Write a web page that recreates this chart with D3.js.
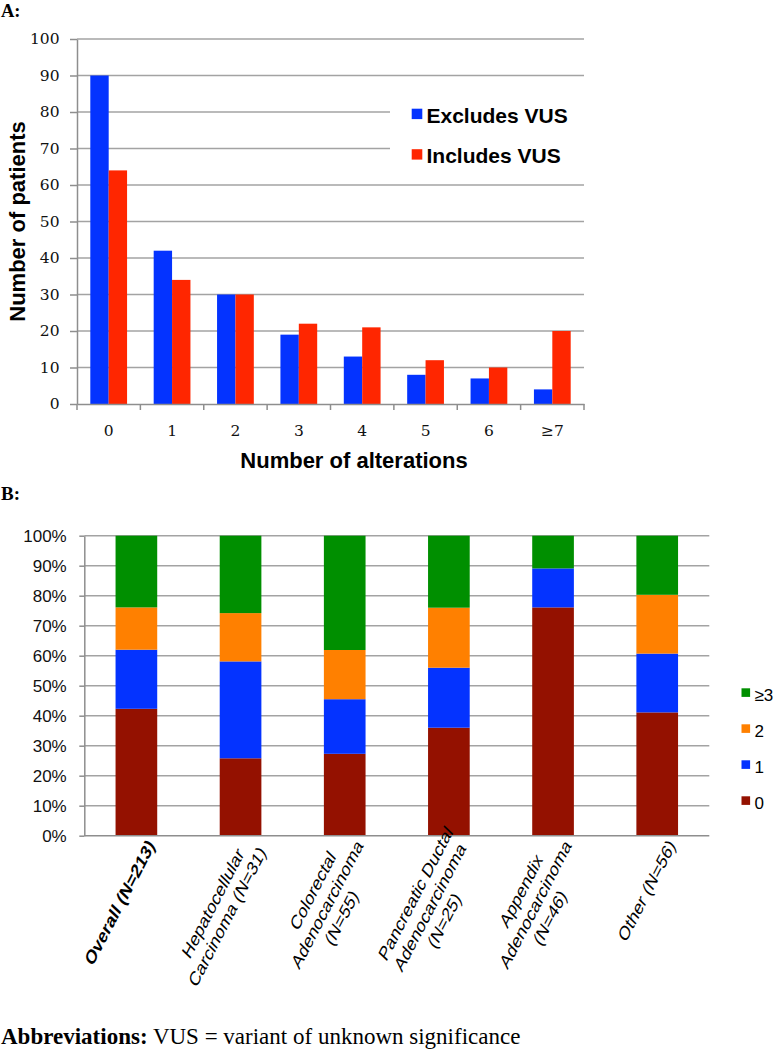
<!DOCTYPE html>
<html>
<head>
<meta charset="utf-8">
<script src="https://cdn.jsdelivr.net/npm/d3@7"></script>
<style>
  html, body { margin: 0; padding: 0; background: #fff; }
  svg { display: block; }
</style>
</head>
<body>
<svg id="chart" width="775" height="1050"></svg>
<script>
// ---------- Data: panel A ----------
const alterations = ['0', '1', '2', '3', '4', '5', '6', '≥7'];
const excludesVUS = [90, 42, 30, 19, 13, 8, 7, 4];
const includesVUS = [64, 34, 30, 22, 21, 12, 10, 20];
const seriesA = ['Excludes VUS', 'Includes VUS'];
const yTicksA = [0, 10, 20, 30, 40, 50, 60, 70, 80, 90, 100];

// ---------- Data: panel B ----------
const tumorLabels = [
  ['Overall (N=213)'],
  ['Hepatocellular', 'Carcinoma (N=31)'],
  ['Colorectal', 'Adenocarcinoma', '(N=55)'],
  ['Pancreatic Ductal', 'Adenocarcinoma', '(N=25)'],
  ['Appendix', 'Adenocarcinoma', '(N=46)'],
  ['Other (N=56)']
];
const pctZero  = [42.3, 25.8, 27.3, 36.0, 76.1, 41.1];
const pctOne   = [19.7, 32.3, 18.2, 20.0, 13.0, 19.6];
const pctTwo   = [14.1, 16.1, 16.4, 20.0, 0.0, 19.6];
const pctThree = [23.9, 25.8, 38.1, 24.0, 10.9, 19.7];
const keysB = ['0', '1', '2', '≥3'];
const yTicksB = [0, 10, 20, 30, 40, 50, 60, 70, 80, 90, 100];

// ---------- Styles ----------
const colA = { 'Excludes VUS': '#0433FF', 'Includes VUS': '#FF2600' };
const colB = { '0': '#941100', '1': '#0433FF', '2': '#FF8000', '≥3': '#008F00' };
const gridCol = '#a3a3a3';
const axisCol = '#8e8e8e';
const sans = '"Liberation Sans", Arial, sans-serif';
const serifNum = '"DejaVu Serif", serif';
const times = '"Liberation Serif", "Times New Roman", serif';

const svg = d3.select('#chart');
svg.append('rect').attr('width', 775).attr('height', 1050).attr('fill', '#fff');

// ================= PANEL A =================
svg.append('text').attr('x', 1).attr('y', 17)
  .attr('font-family', times).attr('font-weight', 'bold').attr('font-size', 18.5)
  .text('A:');

const xA = d3.scaleBand().domain(alterations).range([77, 584])
  .paddingInner(0.42).paddingOuter(0.21);
const xSubA = d3.scaleBand().domain(seriesA).range([0, xA.bandwidth()]);
const yA = d3.scaleLinear().domain([0, 100]).range([404, 39]);

const gA = svg.append('g');
gA.selectAll('line.grid').data(yTicksA.filter(d => d > 0)).join('line')
  .attr('x1', 77).attr('x2', 584)
  .attr('y1', d => yA(d)).attr('y2', d => yA(d))
  .attr('stroke', gridCol).attr('stroke-width', 1.5);

const yAxisA = gA.append('g').attr('transform', 'translate(77,0)')
  .call(d3.axisLeft(yA).tickValues(yTicksA).tickSize(7).tickSizeOuter(0).tickPadding(10.5));
yAxisA.select('.domain').attr('stroke', axisCol).attr('stroke-width', 1.5);
yAxisA.selectAll('.tick line').attr('stroke', axisCol).attr('stroke-width', 1.5);
yAxisA.selectAll('.tick text').attr('font-family', serifNum).attr('font-size', 15.5).attr('fill', '#111');

const rowsA = alterations.map((c, i) => ({ c, vals: [excludesVUS[i], includesVUS[i]] }));
gA.selectAll('g.grp').data(rowsA).join('g')
  .attr('transform', d => `translate(${xA(d.c)},0)`)
  .selectAll('rect').data(d => d.vals.map((v, j) => ({ s: seriesA[j], v })))
  .join('rect')
  .attr('x', d => xSubA(d.s)).attr('width', xSubA.bandwidth())
  .attr('y', d => yA(d.v)).attr('height', d => yA(0) - yA(d.v))
  .attr('fill', d => colA[d.s]);

const xAxisA = gA.append('g').attr('transform', 'translate(0,404)')
  .call(d3.axisBottom(xA).tickSize(0).tickPadding(21));
xAxisA.select('.domain').attr('stroke', axisCol).attr('stroke-width', 1.5);
xAxisA.selectAll('.tick text').attr('font-family', serifNum).attr('font-size', 15.5).attr('fill', '#111');
const halfGapA = xA.step() * xA.paddingInner() / 2;
const boundsA = alterations.map(c => xA(c) - halfGapA).concat([xA(alterations[alterations.length - 1]) + xA.bandwidth() + halfGapA]);
gA.selectAll('line.xt').data(boundsA).join('line')
  .attr('x1', d => d).attr('x2', d => d).attr('y1', 404).attr('y2', 410)
  .attr('stroke', axisCol).attr('stroke-width', 1.5);

svg.append('text')
  .attr('transform', `translate(25,${(yA(0) + yA(100)) / 2}) rotate(-90)`)
  .attr('text-anchor', 'middle').attr('font-family', sans).attr('font-weight', 'bold')
  .attr('font-size', 22).text('Number of patients');
svg.append('text').attr('x', 354).attr('y', 468)
  .attr('text-anchor', 'middle').attr('font-family', sans).attr('font-weight', 'bold')
  .attr('font-size', 22).text('Number of alterations');

const legA = svg.append('g');
legA.append('rect').attr('x', 390).attr('y', 92).attr('width', 200).attr('height', 82).attr('fill', '#fff');
seriesA.forEach((s, i) => {
  legA.append('rect').attr('x', 411.7).attr('y', 108.7 + i * 40.5).attr('width', 10.6).attr('height', 10.4)
    .attr('fill', colA[s]);
  legA.append('text').attr('x', 426.5).attr('y', 122.7 + i * 40.5)
    .attr('font-family', sans).attr('font-weight', 'bold').attr('font-size', 21).attr('fill', '#000')
    .text(s);
});

// ================= PANEL B =================
svg.append('text').attr('x', 1).attr('y', 500)
  .attr('font-family', times).attr('font-weight', 'bold').attr('font-size', 19)
  .text('B:');

const idsB = tumorLabels.map((d, i) => String(i));
const xB = d3.scaleBand().domain(idsB).range([84.3, 709.3]).paddingInner(0.6).paddingOuter(0.3);
const yB = d3.scaleLinear().domain([0, 100]).range([835.7, 535.7]);
const gB = svg.append('g');

gB.selectAll('line.grid').data(yTicksB.filter(d => d > 0)).join('line')
  .attr('x1', 84.3).attr('x2', 709.3)
  .attr('y1', d => yB(d)).attr('y2', d => yB(d))
  .attr('stroke', gridCol).attr('stroke-width', 1.5);

const yAxisB = gB.append('g').attr('transform', 'translate(84.3,0)')
  .call(d3.axisLeft(yB).tickValues(yTicksB).tickSize(5).tickSizeOuter(0).tickPadding(12.6)
    .tickFormat(d => d + '%'));
yAxisB.select('.domain').attr('stroke', axisCol).attr('stroke-width', 1.5);
yAxisB.selectAll('.tick line').attr('stroke', axisCol).attr('stroke-width', 1.5);
yAxisB.selectAll('.tick text').attr('font-family', sans).attr('font-size', 17).attr('fill', '#111');

const rowsB = idsB.map((id, i) => ({ id, '0': pctZero[i], '1': pctOne[i], '2': pctTwo[i], '≥3': pctThree[i] }));
const stackB = d3.stack().keys(keysB)(rowsB);
gB.selectAll('g.layer').data(stackB).join('g')
  .attr('fill', d => colB[d.key])
  .selectAll('rect').data(d => d).join('rect')
  .attr('x', d => xB(d.data.id)).attr('width', xB.bandwidth())
  .attr('y', d => yB(Math.min(d[1], 100))).attr('height', d => Math.max(0, yB(d[0]) - yB(Math.min(d[1], 100))));

gB.append('line').attr('x1', 84.3).attr('x2', 709.3).attr('y1', 835.7).attr('y2', 835.7)
  .attr('stroke', axisCol).attr('stroke-width', 1.5);

// rotated category labels
const fsB = 15, lhB = 17.5;
const labG = gB.selectAll('g.lab').data(tumorLabels).join('g')
  .attr('transform', (d, i) => `translate(${xB(idsB[i]) + xB.bandwidth() / 2 + 19},846) scale(1,1.35) rotate(-55)`);
labG.each(function (lines, i) {
  const g = d3.select(this);
  const texts = lines.map((ln, k) => g.append('text')
    .attr('font-family', sans).attr('font-size', fsB)
    .attr('font-weight', i === 0 ? 'bold' : 'normal')
    .attr('text-anchor', 'middle').attr('fill', '#000')
    .attr('y', (k - (lines.length - 1) / 2) * lhB)
    .text(ln));
  const maxW = d3.max(texts, t => t.node().getComputedTextLength());
  texts.forEach(t => t.attr('x', -maxW / 2));
});

// legend B
const legKeys = keysB.slice().reverse();
legKeys.forEach((k, i) => {
  svg.append('rect').attr('x', 741.5).attr('y', 688.3 + i * 36).attr('width', 8.6).attr('height', 8.6)
    .attr('fill', colB[k]);
  svg.append('text').attr('x', 754.5).attr('y', 700.7 + i * 36)
    .attr('font-family', sans).attr('font-size', 17).attr('fill', '#000').text(k);
});

// ================= Footnote =================
const foot = svg.append('text').attr('x', 1).attr('y', 1044)
  .attr('font-family', times).attr('font-size', 23).attr('fill', '#000');
foot.append('tspan').attr('font-weight', 'bold').text('Abbreviations:');
foot.append('tspan').text(' VUS = variant of unknown significance');
</script>
</body>
</html>
